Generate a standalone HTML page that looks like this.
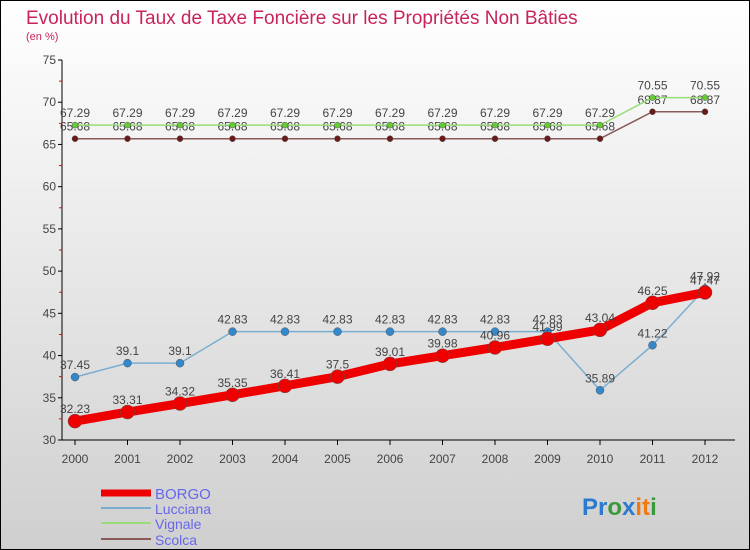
<!DOCTYPE html>
<html><head><meta charset="utf-8"><style>
body{margin:0}
svg{display:block;font-family:"Liberation Sans",sans-serif}
</style></head><body>
<svg width="750" height="550" viewBox="0 0 750 550">
<defs><linearGradient id="bg" x1="0" y1="0" x2="0" y2="1"><stop offset="0" stop-color="#ffffff"/><stop offset="1" stop-color="#cfcfcf"/></linearGradient></defs>
<rect x="0.5" y="0.5" width="749" height="549" fill="url(#bg)" stroke="#000"/>
<text x="26" y="24" font-size="19" fill="#c8245a">Evolution du Taux de Taxe Foncière sur les Propriétés Non Bâties</text>
<text x="26" y="40" font-size="11" fill="#c8245a">(en %)</text>
<g id="axes"></g>
<g id="series"></g>
<g>
<line x1="101" y1="493" x2="151" y2="493" stroke="#e00" stroke-width="7"/>
<text x="155" y="499" font-size="15" fill="#6666ee">BORGO</text>
<line x1="101" y1="508" x2="151" y2="508" stroke="#7aaed0" stroke-width="2"/>
<text x="155" y="514" font-size="14" fill="#6666ee">Lucciana</text>
<line x1="101" y1="523" x2="151" y2="523" stroke="#99dd77" stroke-width="2"/>
<text x="155" y="529" font-size="14" fill="#6666ee">Vignale</text>
<line x1="101" y1="539" x2="151" y2="539" stroke="#8a5a5a" stroke-width="2"/>
<text x="155" y="545" font-size="14" fill="#6666ee">Scolca</text>
</g>
<text x="582" y="515" font-size="24" font-weight="bold"><tspan fill="#2a7ad0">Pr</tspan><tspan fill="#3a9a3a">o</tspan><tspan fill="#2a7ad0">x</tspan><tspan fill="#f07a10">it</tspan><tspan fill="#3a9a3a">i</tspan></text>
</svg>
<script>
const years=[2000,2001,2002,2003,2004,2005,2006,2007,2008,2009,2010,2011,2012];
const yTicks=[30,35,40,45,50,55,60,65,70,75];
const borgo=[32.23,33.31,34.32,35.35,36.41,37.5,39.01,39.98,40.96,41.99,43.04,46.25,47.47];
const lucciana=[37.45,39.1,39.1,42.83,42.83,42.83,42.83,42.83,42.83,42.83,35.89,41.22,47.92];
const vignale=[67.29,67.29,67.29,67.29,67.29,67.29,67.29,67.29,67.29,67.29,67.29,70.55,70.55];
const scolca=[65.68,65.68,65.68,65.68,65.68,65.68,65.68,65.68,65.68,65.68,65.68,68.87,68.87];
const NS="http://www.w3.org/2000/svg";
const X=i=>75+i*52.5, Y=v=>440-(v-30)*380/45;
function mk(t,a,p){const e=document.createElementNS(NS,t);for(const k in a)e.setAttribute(k,a[k]);p.appendChild(e);return e;}
const ax=document.getElementById('axes');
const yl=mk('line',{x1:62,y1:60,x2:62,y2:440,stroke:'#000'},ax);


const xl=mk('line',{x1:62,y1:440,x2:735,y2:440,stroke:'#000'},ax);


yTicks.forEach((v,i)=>{
 mk('line',{x1:58,y1:Y(v),x2:62,y2:Y(v),stroke:'#000'},ax);
 if(i<yTicks.length-1) mk('line',{x1:59,y1:Y(v+2.5),x2:62,y2:Y(v+2.5),stroke:'#e00'},ax);
 const t=mk('text',{x:56,y:Y(v)+4,'font-size':12,fill:'#444','text-anchor':'end'},ax);
 
 
 t.textContent=v;
});
years.forEach((y,i)=>{
 mk('line',{x1:X(i),y1:440,x2:X(i),y2:445,stroke:'#000'},ax);
 const t=mk('text',{x:X(i),y:463,'font-size':12,fill:'#444','text-anchor':'middle'},ax);
 
 
 t.textContent=y;
});
const sg=document.getElementById('series');
function series(name,vals,color,w,r,mcol){
 const g=mk('g',{},sg);
 
 
 mk('polyline',{points:vals.map((v,i)=>X(i)+','+Y(v)).join(' '),fill:'none',stroke:color,'stroke-width':w,'stroke-linejoin':'round'},g);
 vals.forEach((v,i)=>{
  const c=mk('circle',{cx:X(i),cy:Y(v),r:r,fill:mcol,stroke:'#555','stroke-width':0.5},g);
  
  
  const t=mk('text',{x:X(i),y:Y(v)-8,'font-size':12,fill:'#444','text-anchor':'middle'},g);
  
  
  t.textContent=v;
 });
}
series('scolca',scolca,'#8a5a5a',1.5,3,'#6a1a1a');
series('vignale',vignale,'#99dd77',1.5,3,'#66cc33');
series('lucciana',lucciana,'#7aaed0',1.5,4,'#3388cc');
series('borgo',borgo,'#ee0000',9,7,'#ee0000');
</script>
</body></html>
